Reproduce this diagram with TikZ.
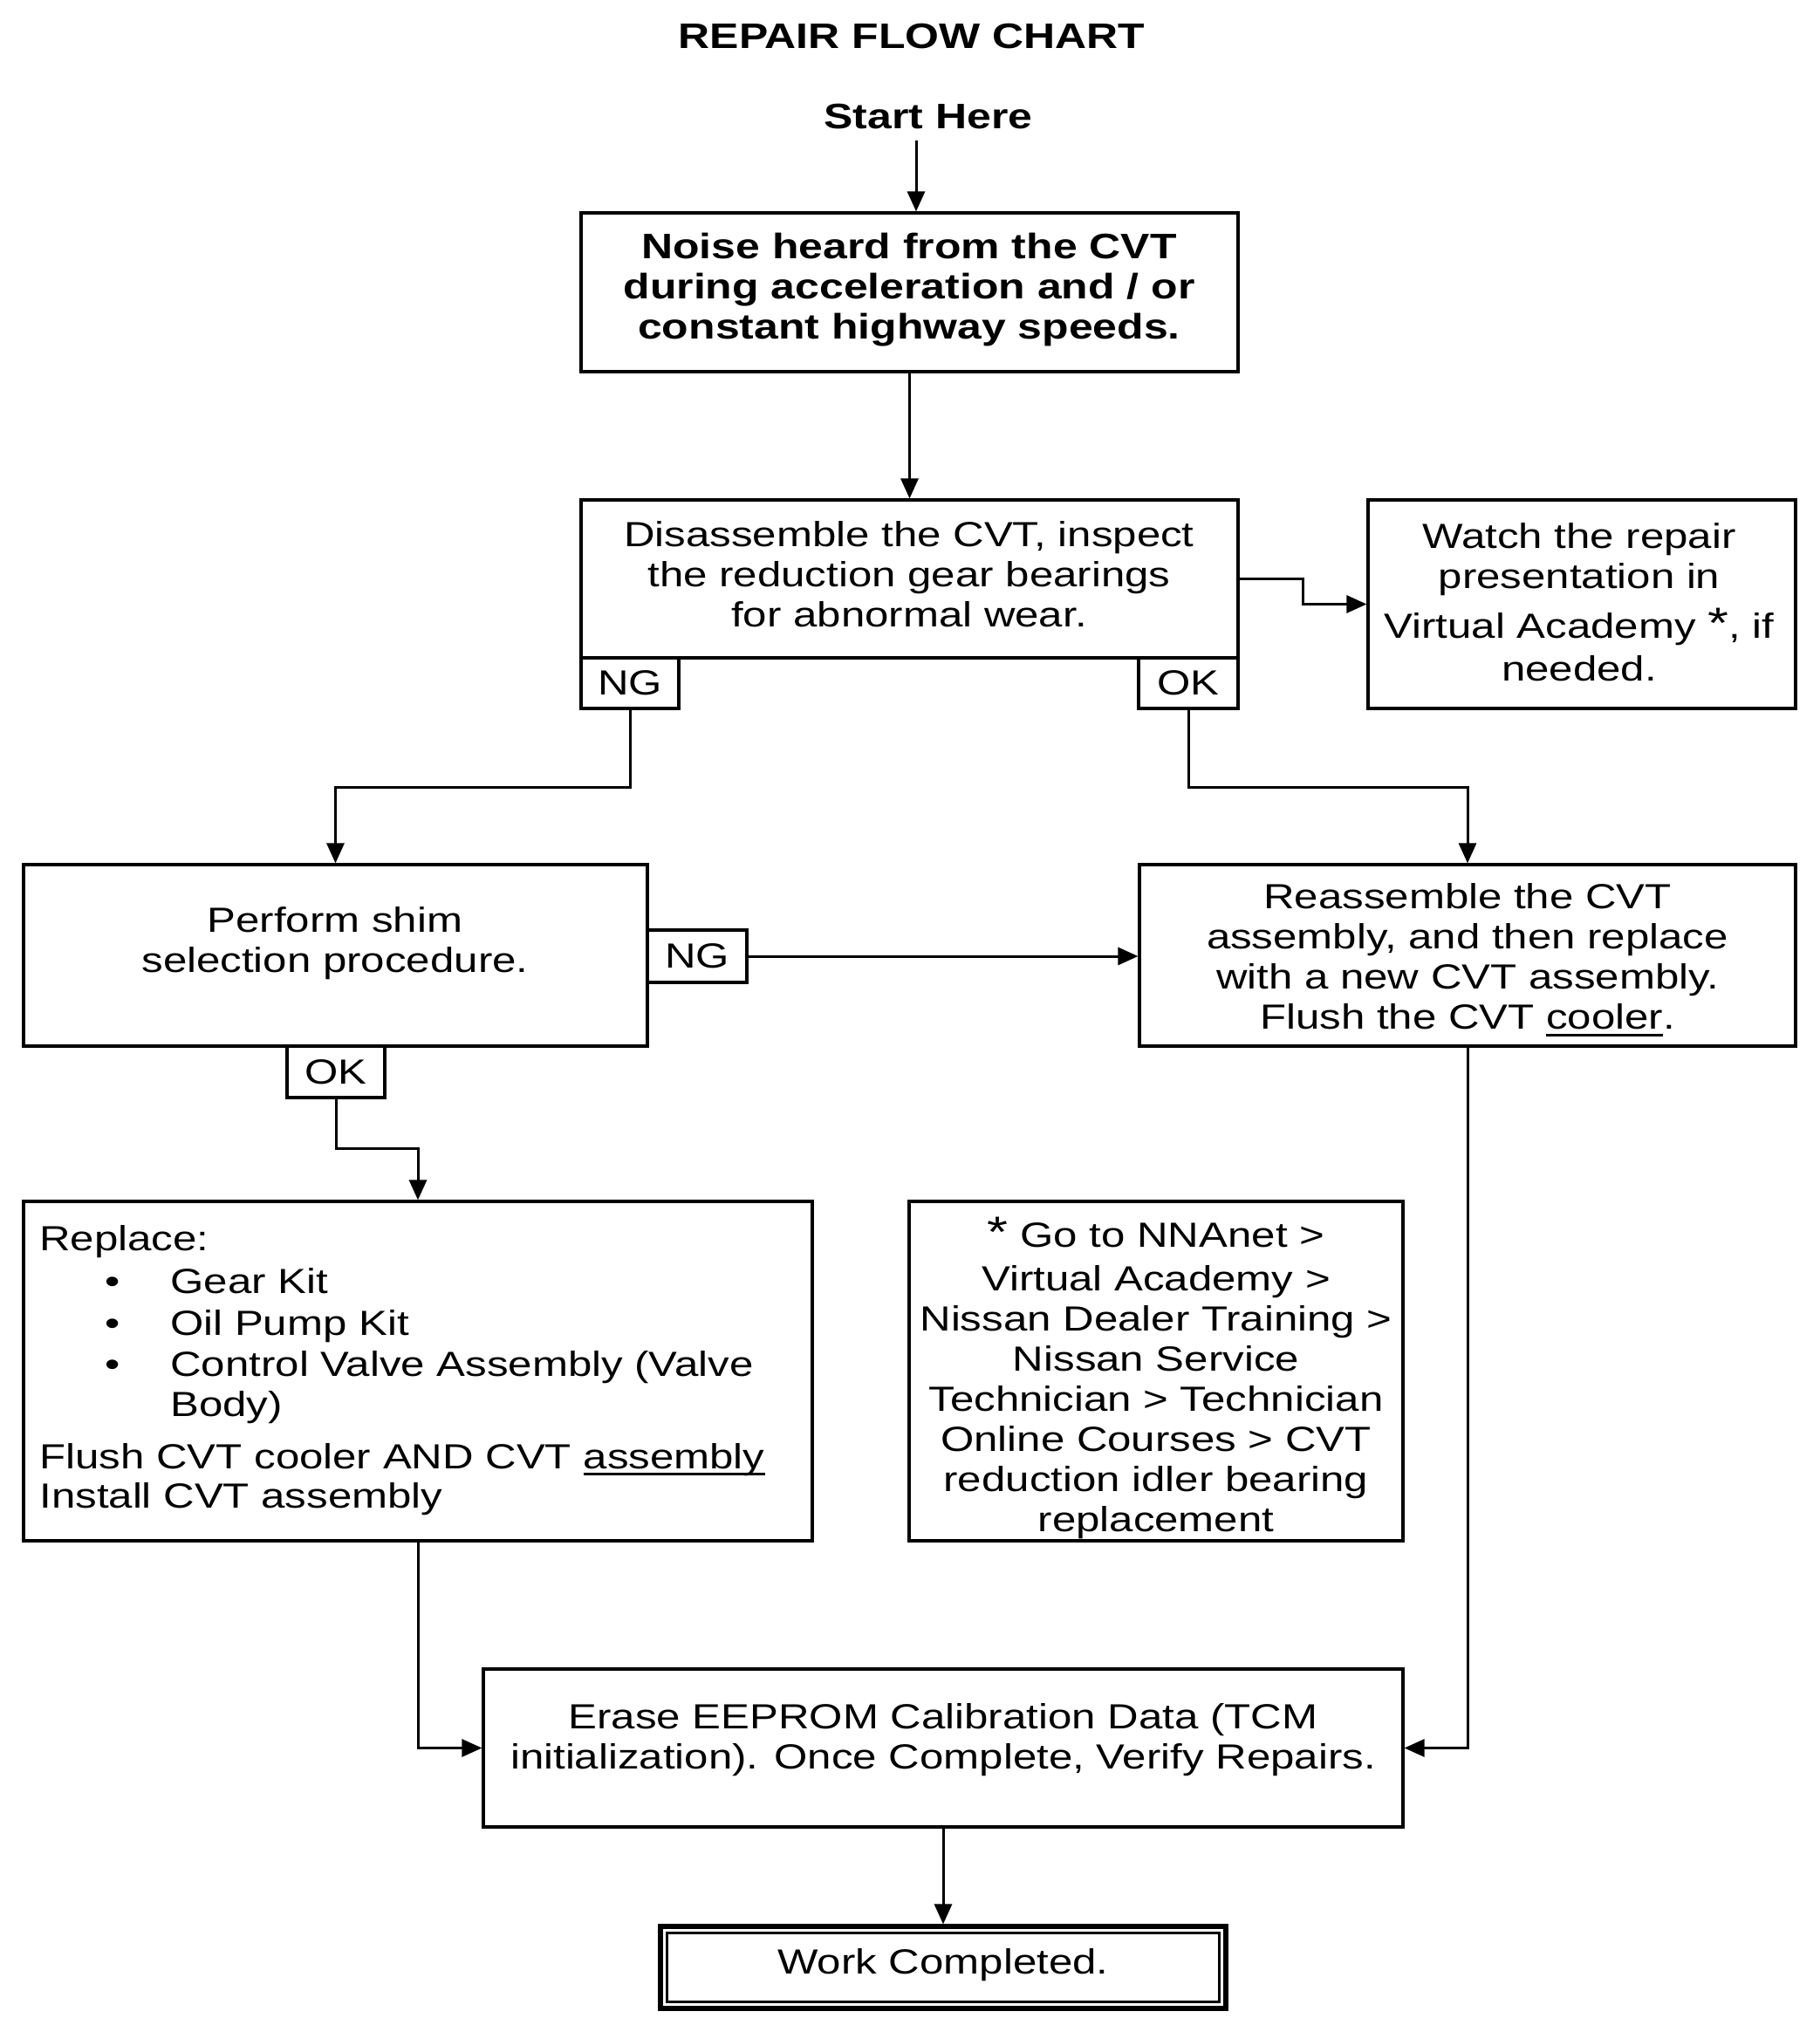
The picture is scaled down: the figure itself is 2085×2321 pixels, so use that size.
\documentclass[tikz,border=0pt]{standalone}
\usepackage{fontspec}
\setmainfont{Liberation Sans}[FakeStretch=1.23]
\usetikzlibrary{arrows.meta}
\newcommand{\ulx}[1]{\setbox0\hbox{#1}\rlap{\rule[-4pt]{\wd0}{1.3pt}}\box0}
\newcommand{\bigast}{{\fontsize{25}{23}\selectfont *}}
\begin{document}
\begin{tikzpicture}[x=0.5pt,y=-0.5pt,
  every node/.style={inner sep=0pt, font=\fontsize{20}{23}\selectfont},
  txt/.style={align=center},
  btxt/.style={align=center, font=\fontsize{20.3}{23}\selectfont\bfseries},
  box/.style={draw, line width=1.6pt, rectangle},
  arr/.style={line width=1.5pt, -{Triangle[length=11.5pt,width=10pt]}},
  ln/.style={line width=1.5pt}
]
\fill[white] (0,0) rectangle (2085,2321);
\useasboundingbox (0,0) rectangle (2085,2321);

% title
\node[btxt] (title) at (1045,42) {REPAIR FLOW CHART};
\node[btxt] (start) at (1064,134) {Start Here};

% boxes
\node[box, minimum width=376.5pt, minimum height=91pt] (b1) at (1042.5,335) {};
\node[btxt] (t1) at (1042,332) {Noise heard from the CVT\\during acceleration and / or\\constant highway speeds.};

\node[box, minimum width=376.5pt, minimum height=90.5pt] (b2) at (1042.5,663.5) {};
\node[txt] (t2) at (1042,658) {Disassemble the CVT, inspect\\the reduction gear bearings\\for abnormal wear.};
\node[box, minimum width=56pt, minimum height=29pt] (ng1) at (722,783) {NG};
\node[box, minimum width=57pt, minimum height=29pt] (ok1) at (1362,783) {OK};

\node[box, minimum width=245pt, minimum height=119.5pt] (w) at (1813,692.5) {};
\node[txt] (tw) at (1810,690) {Watch the repair\\presentation in\\[5.5pt]Virtual Academy \bigast, if\\[1.5pt]needed.};

\node[box, minimum width=357.5pt, minimum height=104pt] (s) at (384.5,1095) {};
\node[txt] (ts) at (384,1081) {Perform shim\\selection procedure.};
\node[box, minimum width=57pt, minimum height=30pt] (ng2) at (799,1096) {NG};
\node[box, minimum width=56pt, minimum height=29.5pt] (ok2) at (385,1228.5) {OK};

\node[box, minimum width=376pt, minimum height=104pt] (r) at (1682,1095) {};
\node[txt] (tr) at (1682,1100) {Reassemble the CVT\\assembly, and then replace\\with a new CVT assembly.\\Flush the CVT \ulx{cooler}.};

\node[box, minimum width=452pt, minimum height=194.5pt] (p) at (479,1571.5) {};
\node[anchor=base west] (p1) at (45,1433) {Replace:};
\node[anchor=base] (pb1) at (129,1482) {•};
\node[anchor=base west] (p2) at (195,1482) {Gear Kit};
\node[anchor=base] (pb2) at (129,1530) {•};
\node[anchor=base west] (p3) at (195,1530) {Oil Pump Kit};
\node[anchor=base] (pb3) at (129,1577) {•};
\node[anchor=base west] (p4) at (195,1577) {Control Valve Assembly (Valve};
\node[anchor=base west] (p5) at (195,1623) {Body)};
\node[anchor=base west] (p6) at (45,1683) {Flush CVT cooler AND CVT \ulx{assembly}};
\node[anchor=base west] (p7) at (45,1728) {Install CVT assembly};

\node[box, minimum width=283pt, minimum height=194.5pt] (n) at (1325,1571.5) {};
\node[txt] (tn) at (1325,1579) {\bigast\ Go to NNAnet >\\[2pt]Virtual Academy >\\Nissan Dealer Training >\\Nissan Service\\Technician > Technician\\Online Courses > CVT\\reduction idler bearing\\replacement};

\node[box, minimum width=527pt, minimum height=90.5pt] (e) at (1081,2003.5) {};
\node[txt] (te) at (1081,1994) {Erase EEPROM Calibration Data (TCM\\initialization). Once Complete, Verify Repairs.};

\node[draw, line width=2.6pt, minimum width=324pt, minimum height=47pt] (wc) at (1081,2255) {};
\draw[line width=1.6pt] ([shift={(5pt,-5pt)}]wc.north west) rectangle ([shift={(-5pt,5pt)}]wc.south east);
\node (twc) at (1081,2252) {Work Completed.};

% connectors
\coordinate (s0) at (1050,161);
\draw[arr] (s0) -- (s0 |- b1.north);
\draw[arr] (b1.south) -- (b2.north);
\draw[arr] (b2.east) -- ++(36.5pt,0) |- (w.west);
\draw[arr] (ng1.south) -- (ng1.south |- 0,902) -| (s.north);
\draw[arr] (ok1.south) -- (ok1.south |- 0,902) -| (r.north);
\draw[arr] (ng2.east) -- (ng2.east -| r.west);
\draw[arr] (ok2.south) -- (ok2.south |- 0,1316) -| (p.north);
\draw[arr] (p.south) |- (e.west);
\draw[arr] (r.south) |- (e.east);
\draw[arr] (e.south) -- (wc.north);
\end{tikzpicture}
\end{document}
